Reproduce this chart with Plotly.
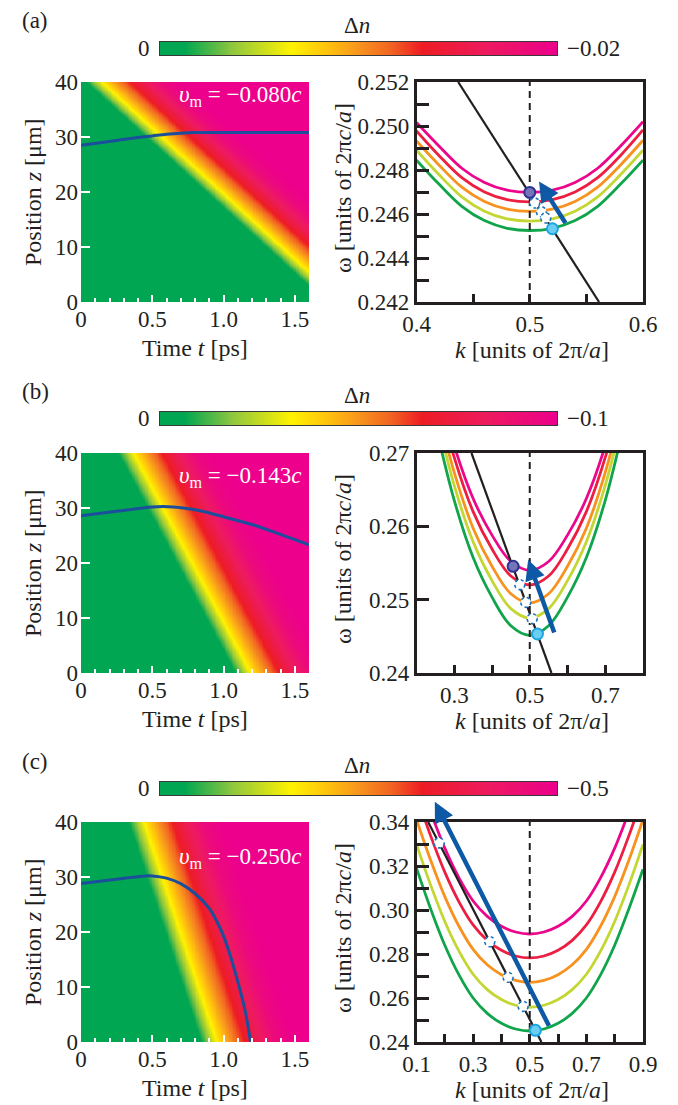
import numpy as np
import plotly.graph_objects as go

W, H = 678, 1105
OFF = 8  # the page body margin puts the figure at (8, 8)
FW, FH = W - OFF, H - OFF
FONT = "Liberation Serif"
INK = "#231f20"

# ---------------- data ----------------
panel_tags = ["(a)", "(b)", "(c)"]
dn_max = [-0.02, -0.1, -0.5]
dn_max_text = ["−0.02", "−0.1", "−0.5"]
vm_text = ["−0.080", "−0.143", "−0.250"]

# index front: time (ps) at which the yellow part passes z = 40 um and z = 0 um
front_t40 = [0.145, 0.367, 0.44]
front_t0 = [1.83, 1.19, 0.95]
# colour profile behind the front: time offset (ps) -> fraction of dn_max
prof_dt = [-0.25, -0.13, -0.07, 0.0, 0.05, 0.10, 0.20, 0.30, 0.42, 0.55]
prof_frac = [0.0, 0.0, 0.15, 0.33, 0.42, 0.50, 0.66, 0.80, 0.94, 1.0]

# pulse trajectory (blue line on the maps)
a_traj_t = [0, 0.2, 0.4, 0.5, 0.6, 0.7, 0.8, 1.0, 1.2, 1.4, 1.6]
a_traj_z = [28.5, 29.2, 29.9, 30.2, 30.5, 30.7, 30.8, 30.8, 30.8, 30.8, 30.8]
b_traj_t = [0, 0.25, 0.5, 0.65, 0.8, 0.9, 1.0, 1.2, 1.4, 1.6]
b_traj_z = [28.6, 29.4, 30.2, 30.2, 29.7, 29.1, 28.4, 27.0, 25.2, 23.3]
c_traj_t = [0, 0.25, 0.45, 0.5, 0.6, 0.7, 0.8, 0.9, 0.95, 1.0, 1.05, 1.1, 1.15, 1.19]
c_traj_z = [28.8, 29.6, 30.2, 30.2, 29.8, 28.8, 27.0, 24.3, 22.1, 19.3, 15.5, 11.0, 5.9, 0.0]

# band diagrams: omega vs k, one list per band (green -> pink)
a_k = [0.40, 0.42, 0.44, 0.46, 0.48, 0.50, 0.52, 0.54, 0.56, 0.58, 0.60]
a_green = [0.24845, 0.24735, 0.24635, 0.24570, 0.24535, 0.24525, 0.24535, 0.24570, 0.24635, 0.24735, 0.24845]
a_ygreen = [0.24890, 0.24778, 0.24678, 0.24613, 0.24578, 0.24568, 0.24578, 0.24613, 0.24678, 0.24778, 0.24890]
a_orange = [0.24932, 0.24822, 0.24722, 0.24657, 0.24622, 0.24612, 0.24622, 0.24657, 0.24722, 0.24822, 0.24935]
a_red = [0.24978, 0.24865, 0.24765, 0.24700, 0.24665, 0.24655, 0.24665, 0.24700, 0.24765, 0.24865, 0.24982]
a_pink = [0.25016, 0.24908, 0.24808, 0.24743, 0.24708, 0.24698, 0.24708, 0.24743, 0.24808, 0.24908, 0.25020]

b_k = [0.25, 0.30, 0.35, 0.40, 0.45, 0.50, 0.55, 0.60, 0.65, 0.70, 0.75]
b_green = [0.27394, 0.26354, 0.25574, 0.25034, 0.24644, 0.24514, 0.24644, 0.25034, 0.25574, 0.26354, 0.27394]
b_ygreen = [0.27580, 0.26560, 0.25790, 0.25260, 0.24878, 0.24750, 0.24878, 0.25260, 0.25790, 0.26560, 0.27580]
b_orange = [0.27735, 0.26735, 0.25975, 0.25455, 0.25080, 0.24955, 0.25080, 0.25455, 0.25975, 0.26735, 0.27735]
b_red = [0.27930, 0.26940, 0.26200, 0.25690, 0.25322, 0.25200, 0.25322, 0.25690, 0.26200, 0.26940, 0.27930]
b_pink = [0.28080, 0.27100, 0.26380, 0.25880, 0.25520, 0.25400, 0.25520, 0.25880, 0.26380, 0.27100, 0.28080]

c_k = [0.10, 0.15, 0.20, 0.25, 0.30, 0.35, 0.40, 0.45, 0.50, 0.55, 0.60, 0.65, 0.70, 0.75, 0.80, 0.85, 0.90]
c_green = [0.3190, 0.3005, 0.2840, 0.2705, 0.2600, 0.2530, 0.2485, 0.2459, 0.2450, 0.2459, 0.2485, 0.2530, 0.2600, 0.2705, 0.2840, 0.3005, 0.3185]
c_ygreen = [0.3298, 0.3113, 0.2948, 0.2813, 0.2708, 0.2638, 0.2593, 0.2567, 0.2558, 0.2567, 0.2593, 0.2638, 0.2708, 0.2813, 0.2948, 0.3113, 0.3298]
c_orange = [0.3411, 0.3226, 0.3061, 0.2926, 0.2821, 0.2751, 0.2706, 0.2680, 0.2671, 0.2680, 0.2706, 0.2751, 0.2821, 0.2926, 0.3061, 0.3226, 0.3411]
c_red = [0.3522, 0.3337, 0.3172, 0.3037, 0.2932, 0.2862, 0.2817, 0.2791, 0.2782, 0.2791, 0.2817, 0.2862, 0.2932, 0.3037, 0.3172, 0.3337, 0.3522]
c_pink = [0.3631, 0.3446, 0.3281, 0.3146, 0.3041, 0.2971, 0.2926, 0.2900, 0.2891, 0.2900, 0.2926, 0.2971, 0.3041, 0.3146, 0.3281, 0.3446, 0.3631]

# modulation line (black), start / end states, intermediate states, arrow
a_line_k, a_line_w = [0.4368, 0.5612], [0.252, 0.242]
b_line_k, b_line_w = [0.3456, 0.5575], [0.27, 0.24]
c_line_k, c_line_w = [0.1412, 0.5412], [0.34, 0.24]
start_k, start_w = [0.52, 0.5204, 0.52], [0.24533, 0.24532, 0.2453]
end_k, end_w = [0.5, 0.456, None], [0.24698, 0.25455, None]
a_mid_k, a_mid_w = [0.5044, 0.5103, 0.5141], [0.2465, 0.2461, 0.24582]
b_mid_k, b_mid_w = [0.4736, 0.4895, 0.5063], [0.25205, 0.24964, 0.24741]
c_mid_k, c_mid_w = [0.18, 0.3588, 0.4235, 0.4765], [0.3305, 0.2856, 0.2694, 0.2562]
arrow_tail_k, arrow_tail_w = [0.5324, 0.5663, 0.5705], [0.24552, 0.24532, 0.2467]
arrow_head_k, arrow_head_w = [0.5082, 0.4957, 0.1646], [0.24748, 0.25545, 0.3492]
edge_k = 0.5

# axes
k_range = [[0.4, 0.6], [0.2, 0.8], [0.1, 0.9]]
w_range = [[0.242, 0.252], [0.24, 0.27], [0.24, 0.34]]
k_ticks = [[0.4, 0.5, 0.6], [0.3, 0.5, 0.7], [0.1, 0.3, 0.5, 0.7, 0.9]]
k_minor = [[0.45, 0.55], [0.4, 0.6], [0.2, 0.4, 0.6, 0.8]]
w_ticks = [[0.242, 0.244, 0.246, 0.248, 0.250, 0.252], [0.24, 0.25, 0.26, 0.27],
           [0.24, 0.26, 0.28, 0.30, 0.32, 0.34]]
w_minor = [[0.243, 0.245, 0.247, 0.249, 0.251], [],
           [0.25, 0.27, 0.29, 0.31, 0.33]]
w_fmt = [".3f", ".2f", ".2f"]
t_ticks = [0, 0.5, 1.0, 1.5]
t_ticktext = ["0", "0.5", "1.0", "1.5"]
z_ticks = [0, 10, 20, 30, 40]

band_colors = ["#11a54b", "#c3d631", "#f7921e", "#ec1f43", "#ec068c"]
cs = [[0.0, "#00a651"], [0.06, "#00a651"], [0.18, "#8dc63f"], [0.33, "#fff200"],
      [0.42, "#ffc20e"], [0.5, "#f7941d"], [0.58, "#f26522"], [0.66, "#ed1c24"],
      [0.82, "#ed1b5e"], [1.0, "#ec008c"]]

trajs = [(a_traj_t, a_traj_z), (b_traj_t, b_traj_z), (c_traj_t, c_traj_z)]
bands = [(a_k, [a_green, a_ygreen, a_orange, a_red, a_pink]),
         (b_k, [b_green, b_ygreen, b_orange, b_red, b_pink]),
         (c_k, [c_green, c_ygreen, c_orange, c_red, c_pink])]
lines = [(a_line_k, a_line_w), (b_line_k, b_line_w), (c_line_k, c_line_w)]
mids = [(a_mid_k, a_mid_w), (b_mid_k, b_mid_w), (c_mid_k, c_mid_w)]

# ---------------- layout in window pixels ----------------
plot_top = [82, 453, 822]
plot_h = 220
bar_top = [42, 412, 782]
bar_h = 13
LX = (81, 309)
RX = (416.5, 643)
BX = (160, 557)
TICK = 23
TXT = 24


def px(x):
    return (x - OFF) / FW


def py(y):
    return 1 - (y - OFF) / FH


t_grid = np.arange(0, 1.6001, 0.01)
z_grid = np.arange(0, 40.01, 1.0)

fig = go.Figure()
ann, shapes, lay = [], [], {}
tick_font = dict(family=FONT, size=TICK, color=INK)


def aname(kind, n):
    return kind + "axis" + ("" if n == 1 else str(n))


def ref(kind, n):
    return kind + ("" if n == 1 else str(n))


for i in range(3):
    n1, n2, n3 = 3 * i + 1, 3 * i + 2, 3 * i + 3
    ca = "coloraxis" if i == 0 else "coloraxis%d" % (i + 1)
    top, bot = plot_top[i], plot_top[i] + plot_h
    lay[ca] = dict(colorscale=cs, reversescale=True, cmin=dn_max[i], cmax=0, showscale=False)

    # --- index map ---
    tf = front_t0[i] + (front_t40[i] - front_t0[i]) * z_grid / 40.0
    grid = dn_max[i] * np.interp(t_grid[None, :] - tf[:, None], prof_dt, prof_frac)
    fig.add_trace(go.Heatmap(x=t_grid, y=z_grid, z=grid, coloraxis=ca, zsmooth="best",
                             xaxis=ref("x", n1), yaxis=ref("y", n1), hoverinfo="skip"))
    fig.add_trace(go.Scatter(x=trajs[i][0], y=trajs[i][1], mode="lines",
                             line=dict(color="#1b4f9b", width=3, shape="spline"),
                             xaxis=ref("x", n1), yaxis=ref("y", n1)))
    lay[aname("x", n1)] = dict(domain=[px(LX[0]), px(LX[1])], anchor=ref("y", n1),
                               range=[0, 1.6], tickvals=t_ticks, ticktext=t_ticktext,
                               ticks="inside", ticklen=7, tickwidth=2, tickcolor="white",
                               minor=dict(dtick=0.1, tick0=0, ticks="inside", ticklen=4,
                                          tickwidth=1.5, tickcolor="white"),
                               showgrid=False, zeroline=False, showline=False,
                               ticklabelstandoff=1, automargin=False, tickfont=tick_font)
    lay[aname("y", n1)] = dict(domain=[py(bot), py(top)], anchor=ref("x", n1),
                               range=[0, 40], tickvals=z_ticks, ticks="inside", ticklen=9,
                               tickwidth=2, tickcolor="white", showgrid=False, zeroline=False,
                               showline=False, ticklabelstandoff=2, automargin=False,
                               tickfont=tick_font)

    # --- band diagram ---
    kk, curves = bands[i]
    for c, col in zip(curves, band_colors):
        fig.add_trace(go.Scatter(x=kk, y=c, mode="lines",
                                 line=dict(color=col, width=2.8, shape="spline"),
                                 xaxis=ref("x", n2), yaxis=ref("y", n2)))
    fig.add_trace(go.Scatter(x=lines[i][0], y=lines[i][1], mode="lines",
                             line=dict(color=INK, width=2.2),
                             xaxis=ref("x", n2), yaxis=ref("y", n2)))
    fig.add_trace(go.Scatter(x=[edge_k, edge_k], y=w_range[i], mode="lines",
                             line=dict(color=INK, width=2, dash="7px,5px"),
                             xaxis=ref("x", n2), yaxis=ref("y", n2)))
    for mk, mw in zip(*mids[i]):
        shapes.append(dict(type="circle", xref=ref("x", n2), yref=ref("y", n2),
                           xsizemode="pixel", ysizemode="pixel", xanchor=mk, yanchor=mw,
                           x0=-5, x1=5, y0=-5, y1=5, fillcolor="white", layer="above",
                           line=dict(color="#1c75bc", width=1.6, dash="dot")))
    if end_k[i] is not None:
        fig.add_trace(go.Scatter(x=[end_k[i]], y=[end_w[i]], mode="markers",
                                 marker=dict(size=11, color="#7474b8",
                                             line=dict(color="#2e3192", width=2)),
                                 xaxis=ref("x", n2), yaxis=ref("y", n2)))
    fig.add_trace(go.Scatter(x=[start_k[i]], y=[start_w[i]], mode="markers",
                             marker=dict(size=11, color="#6ccdf2",
                                         line=dict(color="#1ba6e0", width=2)),
                             xaxis=ref("x", n2), yaxis=ref("y", n2)))
    ann.append(dict(x=arrow_head_k[i], y=arrow_head_w[i], ax=arrow_tail_k[i], ay=arrow_tail_w[i],
                    xref=ref("x", n2), yref=ref("y", n2), axref=ref("x", n2), ayref=ref("y", n2),
                    text="", showarrow=True, arrowhead=2, arrowsize=0.9, arrowwidth=4.5,
                    arrowcolor="#0d59a6"))
    lay[aname("x", n2)] = dict(domain=[px(RX[0]), px(RX[1])], anchor=ref("y", n2),
                               range=k_range[i], tickvals=k_ticks[i], tickformat=".1f",
                               ticks="inside", ticklen=8, tickwidth=3, tickcolor=INK,
                               minor=dict(tickvals=k_minor[i], ticks="inside", ticklen=8,
                                          tickwidth=3, tickcolor=INK),
                               showline=True, mirror=True, linecolor=INK, linewidth=2.5,
                               showgrid=False, zeroline=False, automargin=False,
                               tickfont=tick_font)
    lay[aname("y", n2)] = dict(domain=[py(bot), py(top)], anchor=ref("x", n2),
                               range=w_range[i], tickvals=w_ticks[i], tickformat=w_fmt[i],
                               ticks="inside", ticklen=13, tickwidth=3, tickcolor=INK,
                               minor=dict(tickvals=w_minor[i], ticks="inside", ticklen=13,
                                          tickwidth=3, tickcolor=INK),
                               showline=True, mirror=True, linecolor=INK, linewidth=2.5,
                               showgrid=False, zeroline=False, automargin=False,
                               tickfont=tick_font)

    # --- colour bar strip ---
    sx = np.linspace(0, dn_max[i], 201)
    fig.add_trace(go.Heatmap(x=sx, y=[0, 1], z=[sx, sx], coloraxis=ca, zsmooth="best",
                             xaxis=ref("x", n3), yaxis=ref("y", n3), hoverinfo="skip"))
    lay[aname("x", n3)] = dict(domain=[px(BX[0]), px(BX[1])], anchor=ref("y", n3),
                               range=[0, dn_max[i]], showticklabels=False, ticks="",
                               showgrid=False, zeroline=False, showline=True, mirror=True,
                               linecolor="#3a3a3a", linewidth=1, automargin=False)
    lay[aname("y", n3)] = dict(domain=[py(bar_top[i] + bar_h), py(bar_top[i])],
                               anchor=ref("x", n3), range=[0, 1], showticklabels=False,
                               ticks="", showgrid=False, zeroline=False, showline=True,
                               mirror=True, linecolor="#3a3a3a", linewidth=1, automargin=False)

    # --- texts ---
    bc = bar_top[i] + bar_h / 2
    vm_y = [96, 477, 858][i]
    txt = [
        (panel_tags[i], 20, bar_top[i] - 21, "left", 0, INK, TICK),
        ("Δ<i>n</i>", 357, bar_top[i] - 17, "center", 0, INK, TICK),
        ("0", 152, bc, "right", 0, INK, TICK),
        (dn_max_text[i], 565, bc, "left", 0, INK, TICK),
        ("<i>υ</i><sub>m</sub> = %s<i>c</i>" % vm_text[i], 304, vm_y, "right", 0, "white", TICK),
        ("Position <i>z</i> [μm]", 33, top + 110, "center", -90, INK, TXT),
        ("Time <i>t</i> [ps]", 195, bot + 46, "center", 0, INK, TXT),
        ("ω [units of 2π<i>c</i>/<i>a</i>]", 343, top + 106, "center", -90, INK, TXT),
        ("<i>k</i> [units of 2π/<i>a</i>]", 532, bot + 48, "center", 0, INK, TXT),
    ]
    for s, x, y, xa, ang, col, fs in txt:
        ann.append(dict(text=s, x=px(x), y=py(y), xref="paper", yref="paper", xanchor=xa,
                        yanchor="middle", showarrow=False, textangle=ang,
                        font=dict(family=FONT, size=fs, color=col)))

fig.update_layout(template="none", width=FW, height=FH, margin=dict(l=0, r=0, t=0, b=0, pad=0),
                  paper_bgcolor="white", plot_bgcolor="white", showlegend=False,
                  font=dict(family=FONT, size=TICK, color=INK),
                  annotations=ann, shapes=shapes, **lay)

fig.write_html("out.html")
